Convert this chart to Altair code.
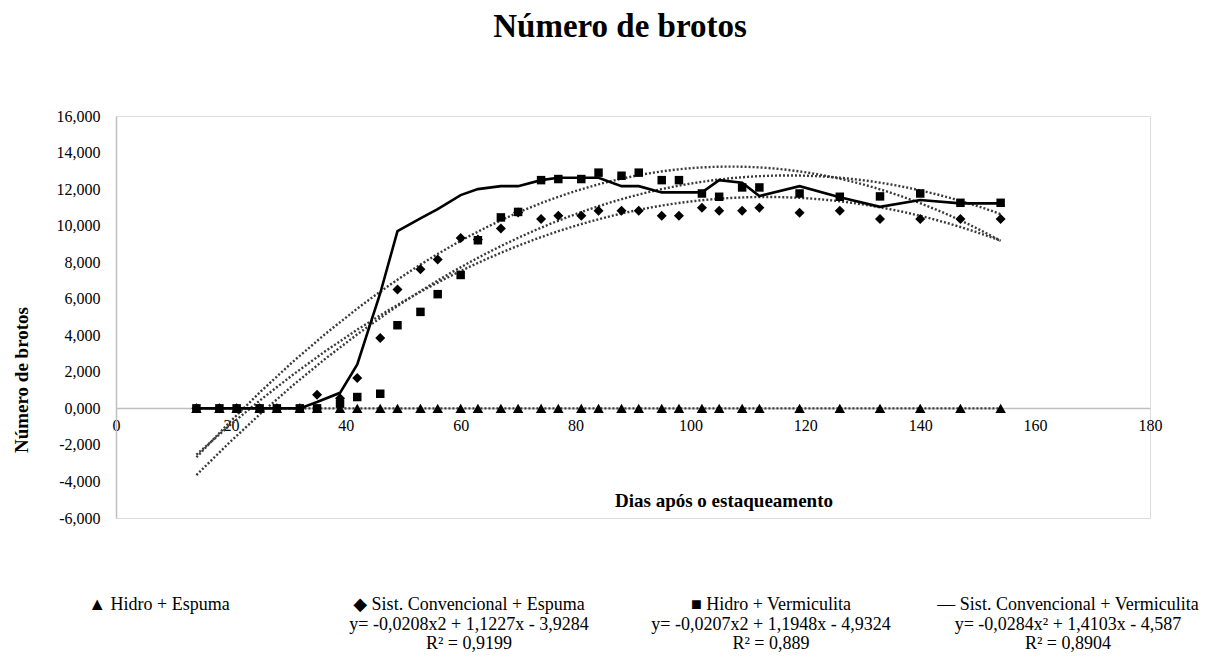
import altair as alt
import pandas as pd

# ---- data (values in thousands of shoots) ----
days = [14, 18, 21, 25, 28, 32, 35, 39, 42, 46, 49, 53, 56, 60, 63, 67, 70, 74, 77,
        81, 84, 88, 91, 95, 98, 102, 105, 109, 112, 119, 126, 133, 140, 147, 154]

hidro_espuma = [0, 0, 0, 0, 0, 0, 0, 0, 0, 0, 0, 0, 0, 0, 0, 0, 0, 0, 0,
                0, 0, 0, 0, 0, 0, 0, 0, 0, 0, 0, 0, 0, 0, 0, 0]

sist_espuma = [0, 0, 0, 0, 0, 0, 0.75, 0.55, 1.66, 3.85, 6.5, 7.62, 8.15, 9.33, 9.24,
               9.85, 10.72, 10.36, 10.54, 10.54, 10.81, 10.81, 10.81, 10.54, 10.54,
               10.98, 10.81, 10.81, 10.98, 10.7, 10.81, 10.36, 10.36, 10.36, 10.36]

hidro_vermiculita = [0, 0, 0, 0, 0, 0, 0, 0.26, 0.62, 0.8, 4.55, 5.28, 6.25, 7.3, 9.2,
                     10.45, 10.75, 12.49, 12.55, 12.55, 12.9, 12.73, 12.9, 12.49, 12.49,
                     11.76, 11.58, 12.09, 12.09, 11.76, 11.58, 11.6, 11.76, 11.25, 11.25]

sist_vermiculita = [0, 0, 0, 0, 0, 0, 0.35, 0.85, 2.4, 6.3, 9.7, 10.4, 10.9, 11.67, 12.0,
                    12.16, 12.16, 12.49, 12.62, 12.62, 12.62, 12.16, 12.16, 11.82, 11.82,
                    11.82, 12.49, 12.35, 11.62, 12.16, 11.55, 11.03, 11.4, 11.22, 11.22]

series_names = ["Hidro + Espuma", "Sist. Convencional + Espuma",
                "Hidro + Vermiculita", "Sist. Convencional + Vermiculita"]
series_values = [hidro_espuma, sist_espuma, hidro_vermiculita, sist_vermiculita]

x_ticks = [0, 20, 40, 60, 80, 100, 120, 140, 160, 180]
y_ticks = [-6, -4, -2, 0, 2, 4, 6, 8, 10, 12, 14, 16]

legend_lines = [
    ["▲ Hidro + Espuma"],
    ["◆ Sist. Convencional + Espuma", "y= -0,0208x2 + 1,1227x - 3,9284", "R² = 0,9199"],
    ["■ Hidro + Vermiculita", "y= -0,0207x2 + 1,1948x - 4,9324", "R² = 0,889"],
    ["— Sist. Convencional + Vermiculita", "y= -0,0284x² + 1,4103x - 4,587", "R² = 0,8904"],
]

rows = []
for name, vals in zip(series_names, series_values):
    for d, v in zip(days, vals):
        rows.append({"day": d, "value": v, "series": name})
df = pd.DataFrame(rows)

FONT = "Liberation Serif, Times New Roman, DejaVu Serif, serif"
W, H = 1034, 402
ZERO_OFFSET = -round(H * 6 / 22)

x_enc = alt.X("day:Q",
              scale=alt.Scale(domain=[0, 180], nice=False, zero=False),
              axis=alt.Axis(values=x_ticks, grid=False, ticks=False, tickSize=0,
                            domainColor="#bfbfbf", domainWidth=1.5,
                            labelFont=FONT, labelFontSize=16, labelColor="black",
                            labelPadding=9, offset=ZERO_OFFSET, title=None,
                            labelFlush=False, labelOverlap=False))
y_enc = alt.Y("value:Q",
              scale=alt.Scale(domain=[-6, 16], nice=False, zero=False),
              axis=alt.Axis(values=y_ticks, grid=False, ticks=False, tickSize=0,
                            domainColor="#bfbfbf", domainWidth=1.5,
                            labelFont=FONT, labelFontSize=16, labelColor="black",
                            labelPadding=16, title=None, labelOverlap=False,
                            labelExpr="replace(replace(format(datum.value, '.3f'), '.', ','), '\u2212', '-')"))

base = alt.Chart(df)

trend = base.transform_regression(
    "day", "value", groupby=["series"], method="poly", order=2
).mark_line(color="#3a3a3a", strokeWidth=2.4, strokeDash=[2, 2]).encode(
    x=x_enc, y=y_enc, detail="series:N")

solid = base.transform_filter(
    alt.datum.series == "Sist. Convencional + Vermiculita"
).mark_line(color="black", strokeWidth=2.6).encode(x=x_enc, y=y_enc)

marker_specs = [("Hidro + Espuma", "triangle-up", 110),
                ("Sist. Convencional + Espuma", "diamond", 100),
                ("Hidro + Vermiculita", "square", 72)]
point_layers = [
    base.transform_filter(alt.datum.series == name).mark_point(
        filled=True, color="black", opacity=1, shape=shape, size=size
    ).encode(x=x_enc, y=y_enc)
    for name, shape, size in marker_specs
]

def label(text, x, y, size=18, bold=False, angle=0):
    return alt.Chart(pd.DataFrame({"t": [text]})).mark_text(
        font=FONT, fontSize=size, fontWeight="bold" if bold else "normal",
        color="black", align="center", baseline="middle", angle=angle
    ).encode(text="t:N", x=alt.value(x), y=alt.value(y))

texts = [
    label("Número de brotos", 504, -89, size=33, bold=True),
    label("Dias após o estaqueamento", 608, 385, size=19, bold=True),
    label("Número de brotos", -94, 264, size=19, bold=True, angle=270),
]

col_x = [43, 353, 655, 952]
line_y = [489, 509, 528]
for cx, lines in zip(col_x, legend_lines):
    for i, t in enumerate(lines):
        texts.append(label(t, cx, line_y[i], size=18))

chart = alt.layer(trend, solid, *point_layers, *texts).properties(
    width=W, height=H,
    padding={"left": 108, "top": 108, "right": 62, "bottom": 135},
    autosize=alt.AutoSizeParams(type="none"),
).configure_view(stroke=None).configure(background="white")

chart.save("out.html", embed_options={"renderer": "svg", "actions": False})
